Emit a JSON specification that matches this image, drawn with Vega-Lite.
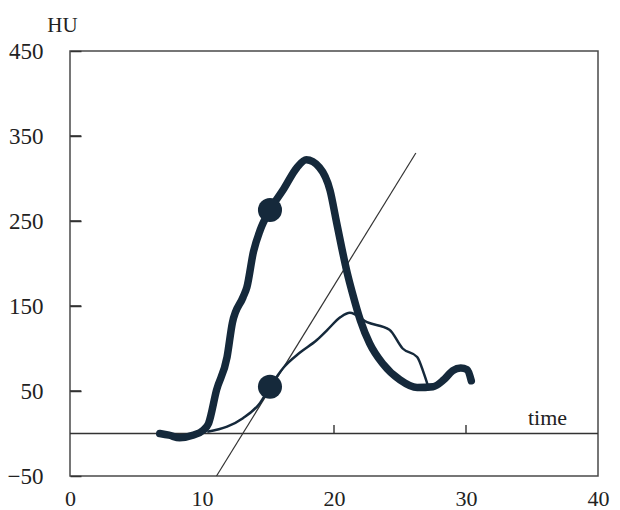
{
  "$schema": "https://vega.github.io/schema/vega-lite/v6.json",
  "autosize": {"type": "none"},
  "padding": {"left": 70, "top": 51, "right": 22, "bottom": 34},
  "width": 528,
  "height": 425,
  "background": "white",
  "config": {
    "view": {"stroke": "#4a4a4a", "strokeWidth": 1.5},
    "axis": {"labelFont": "Liberation Serif", "titleFont": "Liberation Serif", "labelColor": "#222", "titleColor": "#222", "titleFontWeight": "normal", "grid": false, "domain": false, "ticks": false, "labelFlush": false}
  },
  "datasets": {
    "thick": [
      {"t": 6.8, "hu": 0}, {"t": 7.5, "hu": -2}, {"t": 8.3, "hu": -5}, {"t": 9.3, "hu": -2}, {"t": 10.1, "hu": 4},
      {"t": 10.5, "hu": 12}, {"t": 11.1, "hu": 51}, {"t": 11.9, "hu": 90}, {"t": 12.3, "hu": 130}, {"t": 13.1, "hu": 160},
      {"t": 13.4, "hu": 172}, {"t": 13.9, "hu": 214}, {"t": 14.4, "hu": 239}, {"t": 15.15, "hu": 263}, {"t": 16.2, "hu": 288},
      {"t": 17.2, "hu": 313}, {"t": 17.9, "hu": 322}, {"t": 18.9, "hu": 313}, {"t": 19.7, "hu": 286}, {"t": 20.2, "hu": 248},
      {"t": 21.0, "hu": 189}, {"t": 21.4, "hu": 165}, {"t": 22.0, "hu": 133}, {"t": 22.7, "hu": 106}, {"t": 23.7, "hu": 82},
      {"t": 25.0, "hu": 63}, {"t": 26.3, "hu": 54}, {"t": 27.5, "hu": 55}, {"t": 28.3, "hu": 63}, {"t": 29.0, "hu": 74},
      {"t": 29.6, "hu": 77}, {"t": 30.1, "hu": 75}, {"t": 30.4, "hu": 62}
    ],
    "thin": [
      {"t": 10.4, "hu": 2}, {"t": 11.9, "hu": 8}, {"t": 13.1, "hu": 18}, {"t": 14.4, "hu": 36}, {"t": 15.15, "hu": 55},
      {"t": 16.2, "hu": 78}, {"t": 17.4, "hu": 95}, {"t": 18.7, "hu": 110}, {"t": 19.5, "hu": 122}, {"t": 20.5, "hu": 137},
      {"t": 21.2, "hu": 142}, {"t": 22.5, "hu": 131}, {"t": 24.2, "hu": 122}, {"t": 25.2, "hu": 100}, {"t": 26.3, "hu": 90},
      {"t": 26.8, "hu": 71}, {"t": 27.1, "hu": 57}
    ],
    "diag": [{"t": 11.1, "hu": -50}, {"t": 26.2, "hu": 330}],
    "zero": [{"t": 0, "hu": 0}, {"t": 40, "hu": 0}],
    "dots": [{"t": 15.15, "hu": 263}, {"t": 15.15, "hu": 55}],
    "yticks": [
      {"tick": 50, "t": 0, "hu": 50}, {"tick": 50, "t": 0.85, "hu": 50},
      {"tick": 150, "t": 0, "hu": 150}, {"tick": 150, "t": 0.85, "hu": 150},
      {"tick": 250, "t": 0, "hu": 250}, {"tick": 250, "t": 0.85, "hu": 250},
      {"tick": 350, "t": 0, "hu": 350}, {"tick": 350, "t": 0.85, "hu": 350}
    ],
    "xticks": [{"t": 20}, {"t": 30}]
  },
  "layer": [
    {
      "data": {"name": "zero"},
      "mark": {"type": "line", "color": "#333", "strokeWidth": 1.3},
      "encoding": {
        "y": {"field": "hu", "type": "quantitative", "scale": {"domain": [-50, 450]},
          "axis": {"values": [-50, 50, 150, 250, 350, 450], "title": "HU", "titleAngle": 0, "titleX": -8, "titleY": -26, "titleAlign": "center", "titleBaseline": "middle", "titleFontSize": 21, "labelFontSize": 23, "labelPadding": 27,
            "grid": true, "gridColor": "#333", "gridWidth": 1.5, "gridOpacity": 1, "gridDash": [11, 700]}},
        "x": {"field": "t", "type": "quantitative", "scale": {"domain": [0, 40]},
          "axis": {"values": [0, 10, 20, 30, 40], "title": "time", "titleX": 477, "titleY": -59, "titleAlign": "center", "titleBaseline": "middle", "titleFontSize": 22, "labelFontSize": 22, "labelBaseline": "middle", "labelPadding": 22}}
      }
    },
    {
      "data": {"name": "yticks"},
      "mark": {"type": "line", "color": "#333", "strokeWidth": 1.6},
      "encoding": {"x": {"field": "t", "type": "quantitative"}, "y": {"field": "hu", "type": "quantitative"}, "detail": {"field": "tick", "type": "nominal"}}
    },
    {
      "mark": {"type": "rule", "color": "#333", "strokeWidth": 1.3},
      "encoding": {"x": {"datum": 15.15, "type": "quantitative"}, "y": {"datum": -50, "type": "quantitative"}, "y2": {"datum": 350}}
    },
    {
      "data": {"name": "xticks"},
      "mark": {"type": "rule", "color": "#333", "strokeWidth": 1.4},
      "encoding": {"x": {"field": "t", "type": "quantitative"}, "y": {"datum": 0.01, "type": "quantitative"}, "y2": {"datum": 10}}
    },
    {
      "data": {"name": "diag"},
      "mark": {"type": "line", "color": "#333", "strokeWidth": 1.2},
      "encoding": {"x": {"field": "t", "type": "quantitative"}, "y": {"field": "hu", "type": "quantitative"}}
    },
    {
      "data": {"name": "thin"},
      "mark": {"type": "line", "color": "#15293b", "strokeWidth": 2.5, "interpolate": "monotone"},
      "encoding": {"x": {"field": "t", "type": "quantitative"}, "y": {"field": "hu", "type": "quantitative"}}
    },
    {
      "data": {"name": "thick"},
      "mark": {"type": "line", "color": "#15293b", "strokeWidth": 7.5, "interpolate": "monotone", "strokeCap": "round", "strokeJoin": "round"},
      "encoding": {"x": {"field": "t", "type": "quantitative"}, "y": {"field": "hu", "type": "quantitative"}}
    },
    {
      "data": {"name": "dots"},
      "mark": {"type": "point", "shape": "circle", "filled": true, "color": "#15293b", "opacity": 1, "size": 580},
      "encoding": {"x": {"field": "t", "type": "quantitative"}, "y": {"field": "hu", "type": "quantitative"}}
    }
  ]
}
